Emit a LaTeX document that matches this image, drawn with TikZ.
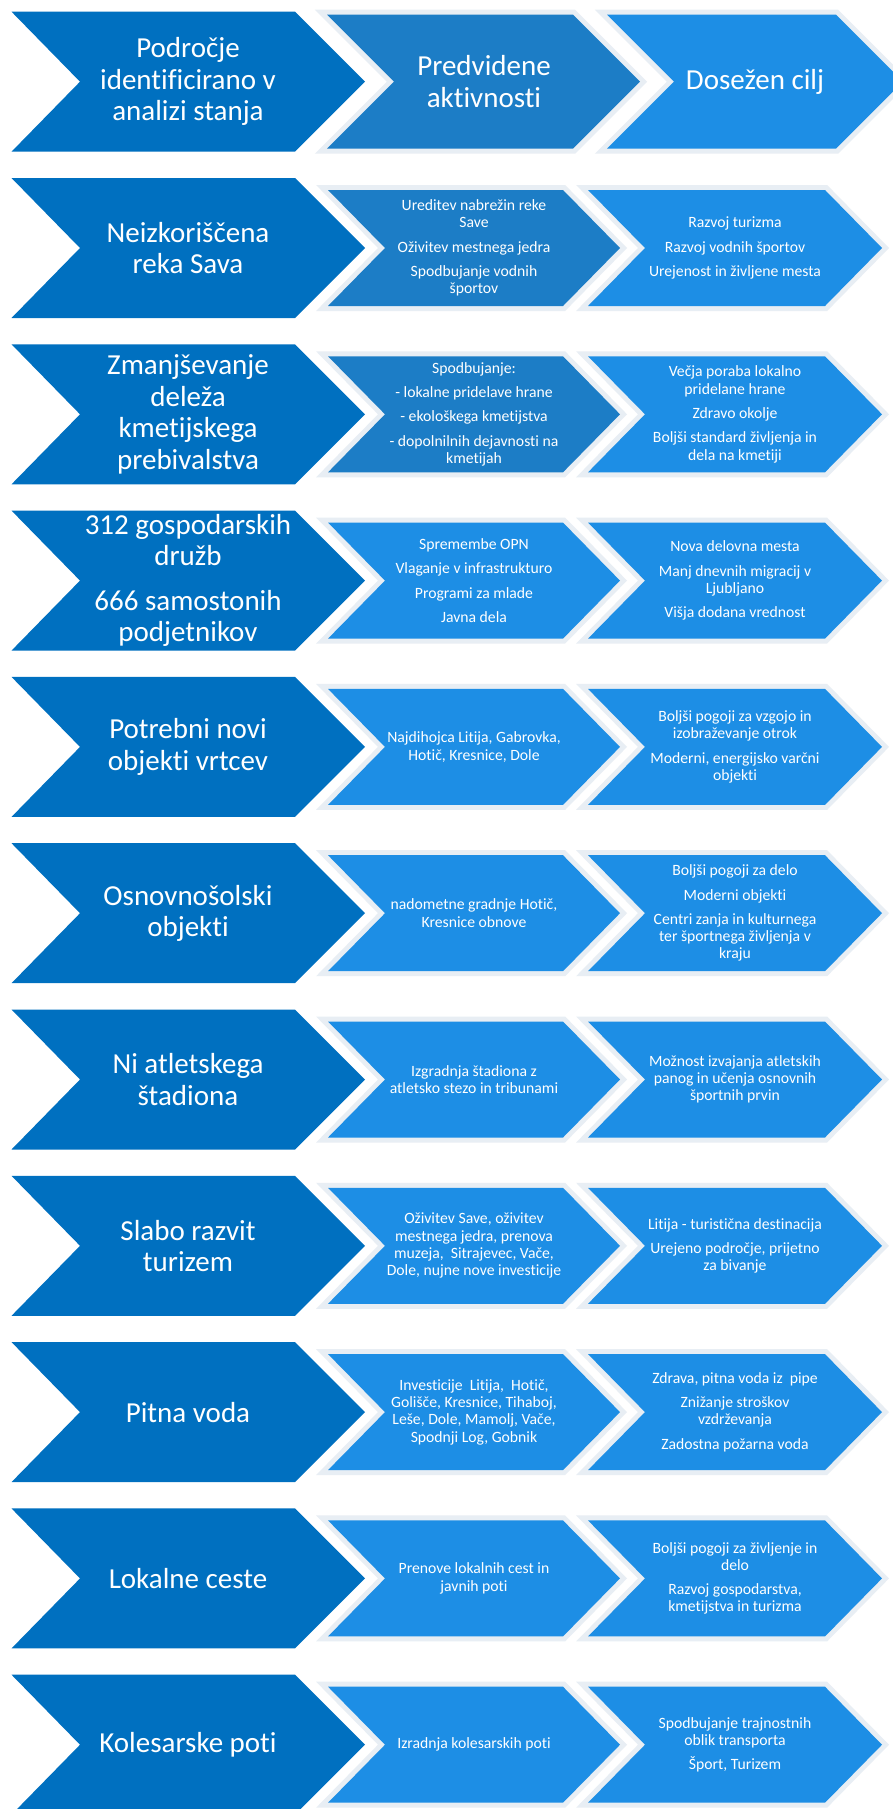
\documentclass[tikz,border=0pt]{standalone}
\usepackage{fontspec}
\setmainfont{Carlito}[Ligatures={NoCommon}]
\definecolor{cdark}{RGB}{0,112,192}
\definecolor{cmed}{RGB}{28,125,198}
\definecolor{cbright}{RGB}{29,142,229}
\definecolor{band}{RGB}{232,238,244}
\tikzset{
  big/.style={text=white, align=center, font=\fontsize{29}{31.5}\selectfont, inner sep=0pt},
  small/.style={text=white, align=center, font=\fontsize{15.7}{17.3}\selectfont, inner sep=0pt},
  bandline/.style={draw=band, line width=10pt, line join=miter}
}
% first chevron of a row: #1 = centre y
\newcommand\chevA[1]{%
  \fill[cdark] (11.5,{#1-70}) -- (295,{#1-70}) -- (365,#1) -- (295,{#1+70}) -- (11.5,{#1+70}) -- (80,#1) -- cycle;}
% other chevrons: #1 left x, #2 top-right x, #3 depth, #4 centre y, #5 half height, #6 colour
\newcommand\chevB[6]{%
  \path[bandline] (#1,{#4-#5}) -- (#2,{#4-#5}) -- ({#2+#3},#4) -- (#2,{#4+#5}) -- (#1,{#4+#5}) -- ({#1+#3},#4) -- cycle;
  \fill[#6] (#1,{#4-#5}) -- (#2,{#4-#5}) -- ({#2+#3},#4) -- (#2,{#4+#5}) -- (#1,{#4+#5}) -- ({#1+#3},#4) -- cycle;}
\newcommand\rowshapes[2]{% #1 centre y, #2 colour of second chevron
  \chevA{#1}
  \chevB{328}{563}{57}{#1}{58}{#2}
  \chevB{588}{825}{57}{#1}{58}{cbright}}
\begin{document}
\begin{tikzpicture}[x=1pt,y=-1pt]
\useasboundingbox (0,0) rectangle (893,1809);
\clip (0,0) rectangle (893,1809);
\fill[white] (0,0) rectangle (893,1809);

% ---------- row 0 (header)
\chevA{81.7}
\chevB{327}{573}{67}{81.7}{67}{cmed}
\chevB{607}{836}{67}{81.7}{67}{cbright}
\node[big] (h1) at (188,81.7) {Področje\\identificirano v\\analizi stanja};
\node[big] (h2) at (484,81.7) {Predvidene\\aktivnosti};
\node[big] (h3) at (755,81.7) {Dosežen cilj};

% ---------- row 1
\rowshapes{248.0}{cmed}
\node[big] (a1) at (188,248.0) {Neizkoriščena\\reka Sava};
\node[small] (a2) at (474,248.0) {Ureditev nabrežin reke\\Save\\[7pt]Oživitev mestnega jedra\\[7pt]Spodbujanje vodnih\\športov};
\node[small] (a3) at (735,248.0) {Razvoj turizma\\[7pt]Razvoj vodnih športov\\[7pt]Urejenost in življene mesta};

% ---------- row 2
\rowshapes{414.3}{cmed}
\node[big] (b1) at (188,414.3) {Zmanjševanje\\deleža\\kmetijskega\\prebivalstva};
\node[small] (b2) at (474,414.3) {Spodbujanje:\\[7pt]- lokalne pridelave hrane\\[7pt]- ekološkega kmetijstva\\[7pt]- dopolnilnih dejavnosti na\\kmetijah};
\node[small] (b3) at (735,414.3) {Večja poraba lokalno\\pridelane hrane\\[7pt]Zdravo okolje\\[7pt]Boljši standard življenja in\\dela na kmetiji};

% ---------- row 3
\rowshapes{580.6}{cbright}
\node[big] (c1) at (188,580.6) {312 gospodarskih\\družb\\[13pt]666 samostonih\\podjetnikov};
\node[small] (c2) at (474,580.6) {Spremembe OPN\\[7pt]Vlaganje v infrastrukturo\\[7pt]Programi za mlade\\[7pt]Javna dela};
\node[small] (c3) at (735,580.6) {Nova delovna mesta\\[7pt]Manj dnevnih migracij v\\Ljubljano\\[7pt]Višja dodana vrednost};

% ---------- row 4
\rowshapes{746.9}{cbright}
\node[big] (d1) at (188,746.9) {Potrebni novi\\objekti vrtcev};
\node[small] (d2) at (474,746.9) {Najdihojca Litija, Gabrovka,\\Hotič, Kresnice, Dole};
\node[small] (d3) at (735,746.9) {Boljši pogoji za vzgojo in\\izobraževanje otrok\\[7pt]Moderni, energijsko varčni\\objekti};

% ---------- row 5
\rowshapes{913.2}{cbright}
\node[big] (e1) at (188,913.2) {Osnovnošolski\\objekti};
\node[small] (e2) at (474,913.2) {nadometne gradnje Hotič,\\Kresnice obnove};
\node[small] (e3) at (735,913.2) {Boljši pogoji za delo\\[7pt]Moderni objekti\\[7pt]Centri zanja in kulturnega\\ter športnega življenja v\\kraju};

% ---------- row 6
\rowshapes{1079.5}{cbright}
\node[big] (f1) at (188,1079.5) {Ni atletskega\\štadiona};
\node[small] (f2) at (474,1079.5) {Izgradnja štadiona z\\atletsko stezo in tribunami};
\node[small] (f3) at (735,1079.5) {Možnost izvajanja atletskih\\panog in učenja osnovnih\\športnih prvin};

% ---------- row 7
\rowshapes{1245.8}{cbright}
\node[big] (g1) at (188,1245.8) {Slabo razvit\\turizem};
\node[small] (g2) at (474,1245.8) {Oživitev Save, oživitev\\mestnega jedra, prenova\\muzeja,\ \ Sitrajevec, Vače,\\Dole, nujne nove investicije};
\node[small] (g3) at (735,1245.8) {Litija - turistična destinacija\\[7pt]Urejeno področje, prijetno\\za bivanje};

% ---------- row 8
\rowshapes{1412.1}{cbright}
\node[big] (k1) at (188,1412.1) {Pitna voda};
\node[small] (k2) at (474,1412.1) {Investicije\ \ Litija,\ \ Hotič,\\Golišče, Kresnice, Tihaboj,\\Leše, Dole, Mamolj, Vače,\\Spodnji Log, Gobnik};
\node[small] (k3) at (735,1412.1) {Zdrava, pitna voda iz\ \ pipe\\[7pt]Znižanje stroškov\\vzdrževanja\\[7pt]Zadostna požarna voda};

% ---------- row 9
\rowshapes{1578.4}{cbright}
\node[big] (l1) at (188,1578.4) {Lokalne ceste};
\node[small] (l2) at (474,1578.4) {Prenove lokalnih cest in\\javnih poti};
\node[small] (l3) at (735,1578.4) {Boljši pogoji za življenje in\\delo\\[7pt]Razvoj gospodarstva,\\kmetijstva in turizma};

% ---------- row 10
\rowshapes{1744.7}{cbright}
\node[big] (m1) at (188,1744.7) {Kolesarske poti};
\node[small] (m2) at (474,1744.7) {Izradnja kolesarskih poti};
\node[small] (m3) at (735,1744.7) {Spodbujanje trajnostnih\\oblik transporta\\[7pt]Šport, Turizem};
\end{tikzpicture}
\end{document}
